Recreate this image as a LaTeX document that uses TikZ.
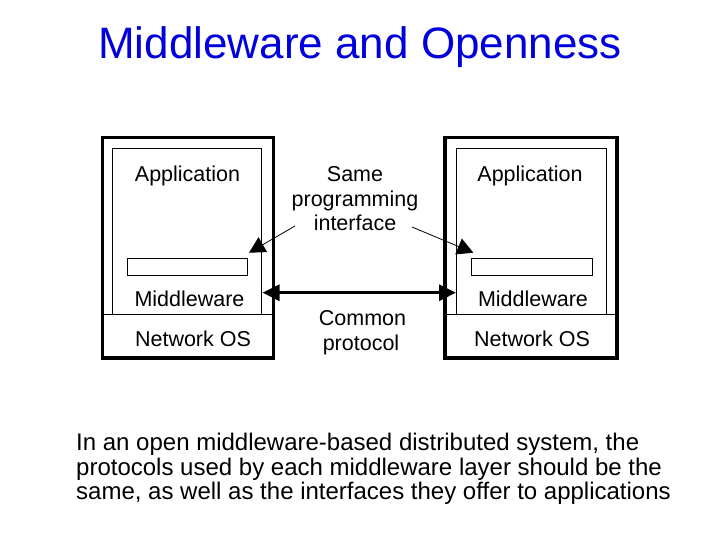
\documentclass[tikz,border=0pt]{standalone}
\usepackage{fontspec}
\setmainfont{Liberation Sans}
\usetikzlibrary{arrows.meta}
\definecolor{titleblue}{RGB}{0,0,221}
\tikzset{
  outerbox/.style={draw=black, line width=3.5bp},
  thinbox/.style={draw=black, line width=1bp},
  lbl/.style={inner sep=0pt, anchor=base, font=\fontsize{21.5bp}{24bp}\selectfont},
  body/.style={inner sep=0pt, anchor=base west, font=\fontsize{24bp}{25bp}\selectfont},
  proto/.style={line width=3bp, {Triangle[length=17bp,width=16bp]}-{Triangle[length=17bp,width=16bp]}},
  iface/.style={line width=0.8bp, -{Triangle[length=16bp,width=17bp]}}
}
\begin{document}
\begin{tikzpicture}[x=1bp,y=-1bp]
\useasboundingbox (0,0) rectangle (720,540);
% title
\node[inner sep=0pt, anchor=base, text=titleblue, font=\fontsize{44bp}{50bp}\selectfont] (title) at (360,59) {Middleware and Openness};

% left machine
\draw[thinbox] (112,148.5) rectangle (261.5,314.5);
\draw[thinbox] (127,259) rectangle (247,275);
\draw[thinbox] (102.5,314.5) -- (273.5,314.5);
\draw[outerbox] (102.5,137.5) rectangle (273.5,358);
\node[lbl] (lapp) at (187.5,181.7) {Application};
\node[lbl] (lmw) at (189.5,306.7) {Middleware};
\node[lbl] (los) at (193,346.7) {Network OS};

% right machine
\draw[thinbox] (456,148.5) rectangle (606,314.5);
\draw[thinbox] (471,259) rectangle (592,275);
\draw[thinbox] (445,314.5) -- (617,314.5);
\draw[outerbox] (445,137.5) rectangle (617,358);
\node[lbl] (rapp) at (530,181.7) {Application};
\node[lbl] (rmw) at (533,306.7) {Middleware};
\node[lbl] (ros) at (532,346.7) {Network OS};

% middle labels
\node[lbl] (same) at (355,181.7) {Same};
\node[lbl] (prog) at (355,207) {programming};
\node[lbl] (intf) at (355,231) {interface};
\node[lbl] (comm) at (362.5,325.7) {Common};
\node[lbl] (prot) at (361,350) {protocol};

% connectors
\coordinate (lpa) at (262.5,292.7);
\coordinate (rpa) at (456,292.7);
\draw[proto] (lpa) -- (rpa);

\coordinate (lis) at (295,226);
\coordinate (lit) at (249,252.7);
\coordinate (ris) at (412,227);
\coordinate (rit) at (473.3,252.7);
\draw[iface] (lis) -- (lit);
\draw[iface] (ris) -- (rit);

% caption
\node[body] (c1) at (76,450.7) {In an open middleware-based distributed system, the};
\node[body] (c2) at (76,475.5) {protocols used by each middleware layer should be the};
\node[body] (c3) at (76,499.5) {same, as well as the interfaces they offer to applications};
\end{tikzpicture}
\end{document}
